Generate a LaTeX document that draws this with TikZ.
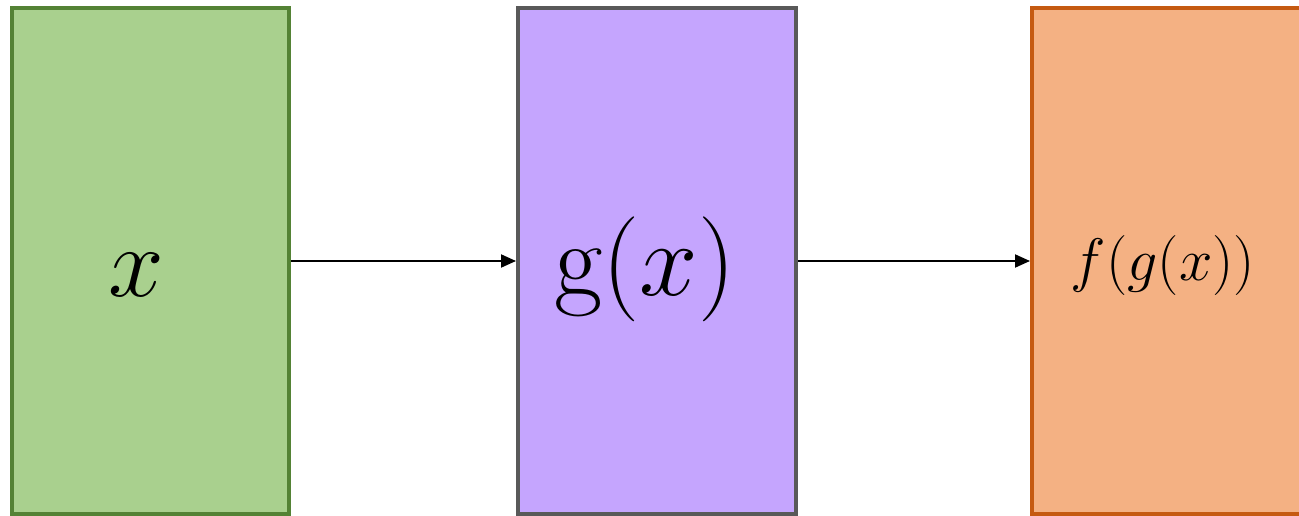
\RequirePackage{fix-cm}
\documentclass[tikz,border=0pt]{standalone}
\usetikzlibrary{arrows.meta}
\definecolor{gfill}{HTML}{A9D08E}
\definecolor{gdraw}{HTML}{548235}
\definecolor{pfill}{HTML}{C5A5FE}
\definecolor{pdraw}{HTML}{595959}
\definecolor{ofill}{HTML}{F4B183}
\definecolor{odraw}{HTML}{C55A11}
\tikzset{
  box/.style={rectangle, line width=4pt, inner sep=0pt, minimum height=505pt},
  conn/.style={line width=2pt, -{Triangle[length=15pt,width=13pt]}},
  lbl/.style={anchor=base, inner sep=0pt}
}
\begin{document}
\begin{tikzpicture}[x=1pt,y=-1pt]
\path[use as bounding box, clip] (0,0) rectangle (1299,516);
\node[box, draw=gdraw, fill=gfill, minimum width=277pt] (A) at (150.5,261) {};
\node[box, draw=pdraw, fill=pfill, minimum width=278pt] (B) at (657,261) {};
\node[box, draw=odraw, fill=ofill, minimum width=288pt] (C) at (1176,261) {};
\node[lbl] (tA) at (136,296) {\fontsize{100}{100}\selectfont$x$};
\node[lbl] (tB) at (645,295) {\fontsize{105}{105}\selectfont$\mathrm{g}(x)$};
\node[lbl] (tC) at (1163,280) {\fontsize{60}{60}\selectfont$f(g(x))$};
\draw[conn] (A.east) -- (B.west);
\draw[conn] (B.east) -- (C.west);
\end{tikzpicture}
\end{document}
